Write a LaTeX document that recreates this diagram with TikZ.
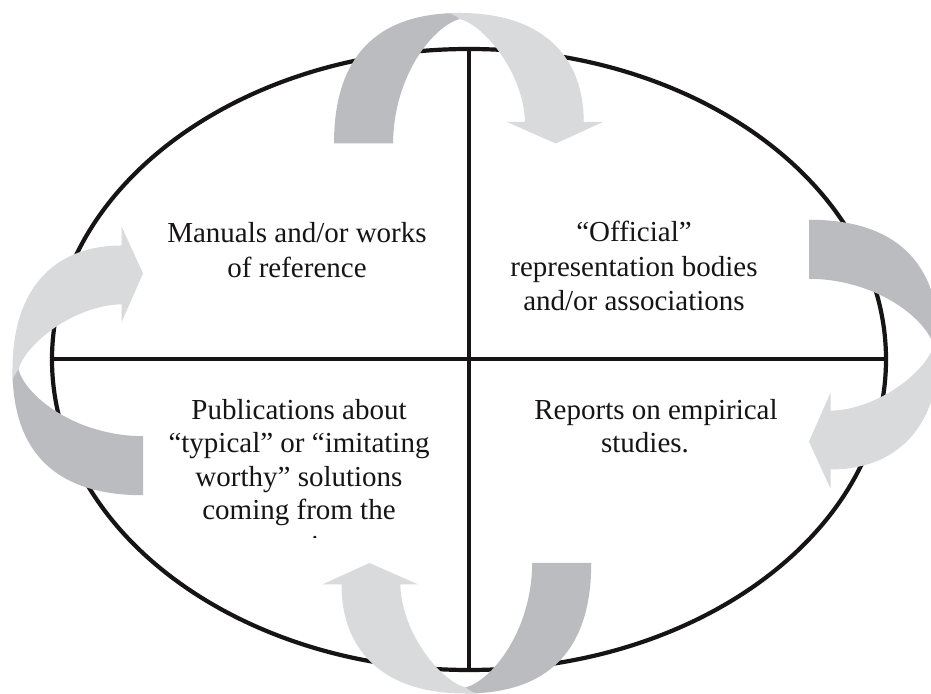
\documentclass[tikz,border=0pt]{standalone}
\usepackage{fontspec}
\setmainfont{Liberation Serif}
\usetikzlibrary{shapes.geometric}
\definecolor{bandlight}{RGB}{217,218,220}
\definecolor{banddark}{RGB}{187,188,191}
\definecolor{ink}{RGB}{22,20,21}
\tikzset{
  lbl/.style={anchor=base, inner sep=0pt, font=\fontsize{29}{35}\selectfont, text=ink},
  divider/.style={draw=ink, line width=4pt},
  twistarrow/.pic={
    \fill[banddark] (-125.75,0) .. controls (-125.75,85) and (-85,130.5) .. (0,130.5)
      -- (0,124.5) .. controls (-25,118) and (-66,70) .. (-66.75,0) -- cycle;
    \fill[bandlight] (0,124.5) .. controls (-5,128.5) and (-9,130.5) .. (-14,130.5)
      -- (0,130.5) .. controls (85,130.5) and (124,85) .. (124,21.5)
      -- (143.25,21.5) -- (96,0) -- (47.25,21.5) -- (65.25,21.5)
      .. controls (64,70) and (25,118) .. (0,124.5) -- cycle;
  }
}
\begin{document}
\begin{tikzpicture}[x=1pt,y=1pt]
\fill[white] (0,0) rectangle (931,693);
\useasboundingbox (0,0) rectangle (931,693);
% oval and cross
\node[ellipse, draw=ink, line width=4.2pt, minimum width=834pt, minimum height=621pt, inner sep=0pt] (oval) at (469,333.5) {};
\draw[divider] (oval.west) -- (oval.east);
\draw[divider] (oval.north) -- (oval.south);
% twisted arrows
\pic (arrT) at (459.75,549.5) {twistarrow};
\pic[rotate=-90] (arrR) at (809,347.5) {twistarrow};
\pic[rotate=180] (arrB) at (465.5,130) {twistarrow};
\pic[rotate=90] (arrL) at (143,323.5) {twistarrow};
% texts
\node[lbl] (ul1) at (297,450) {Manuals and/or works};
\node[lbl] (ul2) at (297,415) {of reference};
\node[lbl] (ur1) at (634,451) {“Official”};
\node[lbl] (ur2) at (634,416) {representation bodies};
\node[lbl] (ur3) at (634,382) {and/or associations};
\node[lbl] (ll1) at (299,273.5) {Publications about};
\node[lbl] (ll2) at (299,240) {“typical” or “imitating};
\node[lbl] (ll3) at (299,206.5) {worthy” solutions};
\node[lbl] (ll4) at (299,173) {coming from the};
\begin{scope}
  \clip (150,155.8) rectangle (450,180);
  \node[lbl] (ll5) at (299,137.5) {practice};
\end{scope}
\node[lbl] (lr1) at (656,273.5) {Reports on empirical};
\node[lbl] (lr2) at (645,240) {studies.};
\end{tikzpicture}
\end{document}
